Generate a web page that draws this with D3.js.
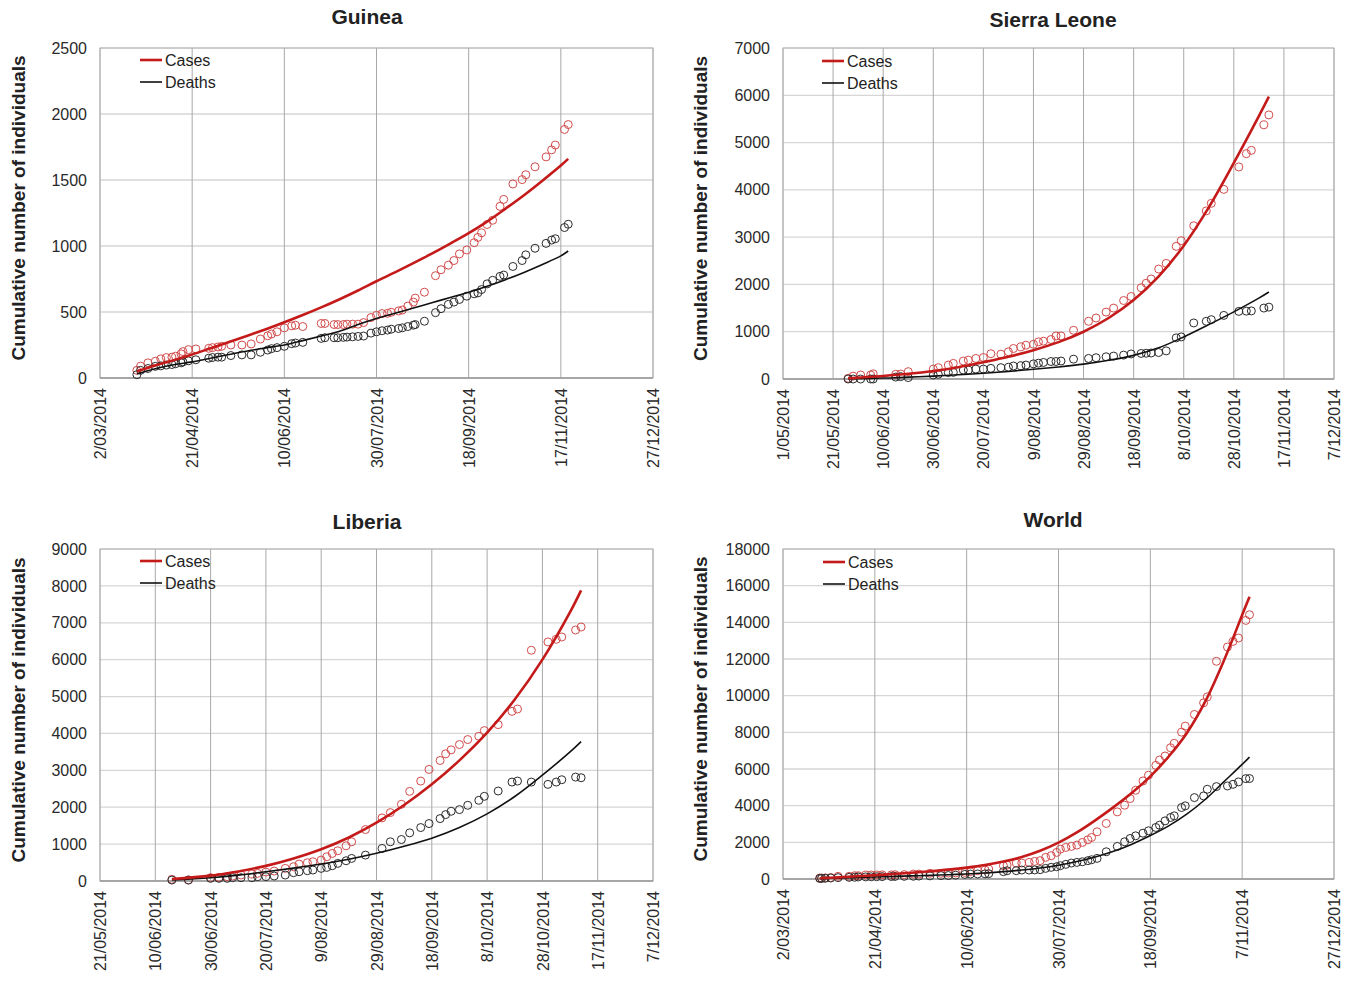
<!DOCTYPE html>
<html>
<head>
<meta charset="utf-8">
<script src="https://cdn.jsdelivr.net/npm/d3@7"></script>
<style>
body { margin: 0; background: #fff; }
svg { font-family: "Liberation Sans", Arial, Helvetica, sans-serif; }
</style>
</head>
<body>
<script>
// days are day-of-year 2014 (1 = 1 Jan)

// Guinea
var guineaDays = [81,83,87,91,94,97,100,102,105,106,109,113,120,122,125,127,132,138,143,148,152,154,157,161,165,167,171,181,183,188,190,193,195,198,201,204,208,211,214,217,219,223,225,228,231,232,237,243,246,250,253,256,260,264,266,268,271,274,278,280,285,290,292,297,303,306,308,313,315];
var guineaCases = [58,90,115,127,145,155,158,165,183,200,215,220,225,230,235,240,250,250,258,295,320,333,350,380,395,400,390,413,413,405,405,405,408,408,408,420,458,475,488,490,498,508,515,545,575,605,650,775,820,855,890,940,970,1025,1065,1100,1163,1195,1300,1353,1470,1503,1540,1600,1675,1728,1765,1883,1920];
var guineaDeaths = [25,58,72,88,92,98,102,108,115,122,130,138,150,155,158,158,170,175,175,195,212,222,230,240,260,265,270,300,305,305,305,308,310,312,315,318,340,350,358,363,370,375,380,390,400,405,430,495,525,558,575,595,620,638,645,670,713,740,770,780,845,890,933,983,1020,1045,1055,1140,1165];
var guineaFitDays = [81,91,101,111,121,131,141,151,161,171,181,191,201,211,221,231,241,251,261,271,281,291,301,311,315];
var guineaFitCases = [50,95,135,178,225,272,320,370,422,477,535,597,663,733,800,870,942,1018,1097,1185,1283,1385,1495,1610,1660];
var guineaFitDeaths = [32,70,100,122,150,178,205,228,250,283,318,355,405,450,490,530,570,610,650,695,745,800,860,925,962];
var guineaTickLabels = ["2/03/2014","21/04/2014","10/06/2014","30/07/2014","18/09/2014","17/11/2014","27/12/2014"];

// Sierra Leone
var sierraDays = [147,149,152,156,157,166,168,171,181,183,187,189,193,195,198,201,204,208,211,213,216,218,221,223,225,228,230,232,237,243,246,250,253,257,260,264,266,268,271,274,278,280,285,290,292,297,303,306,308,313,315];
var sierraCases = [15,60,85,85,110,100,105,155,210,240,295,330,380,400,435,455,535,525,575,645,680,715,735,785,800,835,910,910,1030,1220,1290,1415,1500,1660,1745,1930,2025,2115,2325,2445,2805,2925,3240,3555,3715,4010,4485,4765,4835,5375,5585];
var sierraDeaths = [0,0,0,0,0,40,50,30,85,100,135,140,190,190,210,210,225,240,250,275,280,295,320,335,350,370,370,380,420,435,450,470,485,505,530,540,545,550,560,595,870,890,1185,1220,1255,1345,1430,1435,1440,1500,1520];
var sierraFitDays = [147,161,171,181,191,201,211,221,231,241,251,261,271,281,291,301,311,315];
var sierraFitCases = [15,65,110,170,250,355,470,610,780,1000,1290,1670,2170,2820,3630,4570,5560,5970];
var sierraFitDeaths = [5,20,40,60,90,120,160,205,255,315,395,500,660,890,1150,1420,1710,1840];
var sierraTickLabels = ["1/05/2014","21/05/2014","10/06/2014","30/06/2014","20/07/2014","9/08/2014","29/08/2014","18/09/2014","8/10/2014","28/10/2014","17/11/2014","7/12/2014"];

// Liberia
var liberiaDays = [167,173,181,184,187,189,192,196,198,201,204,208,211,213,216,218,221,223,225,227,230,232,237,243,246,250,253,257,260,264,266,268,271,274,278,280,285,290,292,297,303,306,308,313,315];
var liberiaCases = [45,27,90,99,117,135,162,189,207,243,270,342,387,459,495,522,567,657,747,819,954,1062,1395,1710,1854,2079,2430,2709,3024,3267,3447,3555,3699,3834,3924,4077,4239,4599,4662,6255,6480,6552,6615,6804,6885];
var liberiaDeaths = [27,27,72,72,72,90,90,90,117,117,135,162,225,252,279,297,342,369,414,477,549,612,702,882,1062,1125,1305,1449,1557,1692,1800,1890,1935,2052,2187,2295,2439,2682,2709,2682,2619,2682,2745,2817,2799];
var liberiaFitDays = [167,181,191,201,211,221,231,241,251,261,271,281,291,301,311,315];
var liberiaFitCases = [55,145,260,410,610,860,1180,1580,2060,2620,3270,4020,4920,6000,7290,7880];
var liberiaFitDeaths = [27,90,160,250,350,460,590,750,940,1160,1450,1820,2290,2870,3500,3780];
var liberiaTickLabels = ["21/05/2014","10/06/2014","30/06/2014","20/07/2014","9/08/2014","29/08/2014","18/09/2014","8/10/2014","28/10/2014","17/11/2014","7/12/2014"];

// World
var worldDays = [81,82,84,87,91,97,100,102,106,109,112,115,120,122,127,132,135,141,147,151,155,160,163,167,171,173,181,183,188,191,195,198,201,204,207,210,212,215,218,221,224,227,229,232,237,243,247,250,253,257,260,264,266,269,272,274,278,280,285,290,292,297,303,306,309,313,315];
var worldCases = [50,55,60,80,145,145,180,180,220,220,220,225,225,235,240,270,270,310,310,325,330,360,400,455,490,545,725,760,870,870,905,960,1000,1180,1270,1450,1630,1720,1780,1850,1995,2140,2265,2575,3030,3660,4025,4390,4840,5350,5660,6200,6490,6710,7160,7400,8010,8340,8975,9610,9935,11875,12655,12960,13145,14105,14415];
var worldDeaths = [30,30,40,55,75,90,95,110,115,120,125,130,135,140,145,150,160,170,185,190,210,250,270,275,280,290,400,450,455,490,490,495,510,580,635,670,725,800,870,905,940,1000,1050,1125,1485,1775,2030,2210,2355,2500,2630,2810,2935,3170,3355,3445,3900,3990,4440,4530,4895,5040,5075,5165,5295,5475,5480];
var worldFitDays = [81,91,101,111,121,131,141,151,161,171,181,191,201,211,221,231,241,251,261,271,281,291,301,311,315];
var worldFitCases = [40,90,150,210,270,340,420,510,620,760,950,1200,1540,1980,2540,3200,3920,4700,5600,6680,7980,9700,11900,14400,15400];
var worldFitDeaths = [20,50,80,110,140,170,200,235,275,330,400,490,600,750,950,1200,1510,1900,2370,2900,3550,4350,5300,6250,6650];
var worldTickLabels = ["2/03/2014","21/04/2014","10/06/2014","30/07/2014","18/09/2014","7/11/2014","27/12/2014"];

var legendLabels = ["Cases", "Deaths"];
var yTitle = "Cumulative number of individuals";

window.onload = function(){

    var w = 1351, h = 981;

    var svg = d3.select("body")
        .append("svg")
        .attr("width", w)
        .attr("height", h);

    //day of year -> date
    function day(n){
        return new Date(2014, 0, n);
    }

    var panels = [
        {title: "Guinea", days: guineaDays, cases: guineaCases, deaths: guineaDeaths,
         fitDays: guineaFitDays, fitCases: guineaFitCases, fitDeaths: guineaFitDeaths,
         labels: guineaTickLabels, tickStart: 61, tickStep: 50, yMax: 2500, yStep: 500,
         l: 100, r: 653, t: 48, b: 378, titleX: 367, titleY: 24, yTitleX: 25, legX: 140, legY: 60},
        {title: "Sierra Leone", days: sierraDays, cases: sierraCases, deaths: sierraDeaths,
         fitDays: sierraFitDays, fitCases: sierraFitCases, fitDeaths: sierraFitDeaths,
         labels: sierraTickLabels, tickStart: 121, tickStep: 20, yMax: 7000, yStep: 1000,
         l: 783, r: 1334, t: 48, b: 379, titleX: 1053, titleY: 27, yTitleX: 707, legX: 822, legY: 61},
        {title: "Liberia", days: liberiaDays, cases: liberiaCases, deaths: liberiaDeaths,
         fitDays: liberiaFitDays, fitCases: liberiaFitCases, fitDeaths: liberiaFitDeaths,
         labels: liberiaTickLabels, tickStart: 141, tickStep: 20, yMax: 9000, yStep: 1000,
         l: 100, r: 653, t: 549, b: 881, titleX: 367, titleY: 529, yTitleX: 25, legX: 140, legY: 561},
        {title: "World", days: worldDays, cases: worldCases, deaths: worldDeaths,
         fitDays: worldFitDays, fitCases: worldFitCases, fitDeaths: worldFitDeaths,
         labels: worldTickLabels, tickStart: 61, tickStep: 50, yMax: 18000, yStep: 2000,
         l: 783, r: 1334, t: 549, b: 879, titleX: 1053, titleY: 527, yTitleX: 707, legX: 823, legY: 562}
    ];

    panels.forEach(drawPanel);

    function drawPanel(p){
        var g = svg.append("g").attr("class", "panel");

        var tickDates = p.labels.map(function(d, i){
            return day(p.tickStart + i * p.tickStep);
        });

        var x = d3.scaleTime()
            .domain([tickDates[0], tickDates[tickDates.length - 1]])
            .range([p.l, p.r]);

        var y = d3.scaleLinear()
            .domain([0, p.yMax])
            .range([p.b, p.t]);

        var yTicks = d3.range(0, p.yMax + 1, p.yStep);

        //horizontal grid
        g.selectAll(".hgrid")
            .data(yTicks)
            .enter()
            .append("line")
            .attr("class", "hgrid")
            .attr("x1", p.l)
            .attr("x2", p.r)
            .attr("y1", function(d){ return y(d); })
            .attr("y2", function(d){ return y(d); })
            .style("stroke", "#d6d6d6")
            .style("stroke-width", 1.3);

        //vertical grid
        g.selectAll(".vgrid")
            .data(tickDates)
            .enter()
            .append("line")
            .attr("class", "vgrid")
            .attr("x1", function(d){ return x(d); })
            .attr("x2", function(d){ return x(d); })
            .attr("y1", p.t)
            .attr("y2", p.b)
            .style("stroke", "#a8a8a8")
            .style("stroke-width", 1);

        //frame
        g.append("rect")
            .attr("x", p.l)
            .attr("y", p.t)
            .attr("width", p.r - p.l)
            .attr("height", p.b - p.t)
            .style("fill", "none")
            .style("stroke", "#b5b5b5")
            .style("stroke-width", 1);

        //bottom axis line
        g.append("line")
            .attr("x1", p.l).attr("x2", p.r)
            .attr("y1", p.b).attr("y2", p.b)
            .style("stroke", "#9a9a9a")
            .style("stroke-width", 1.3);

        //y axis
        var yAxis = g.append("g")
            .attr("transform", "translate(" + p.l + ",0)")
            .call(d3.axisLeft(y).tickValues(yTicks).tickSize(0).tickPadding(13).tickFormat(d3.format("d")));
        yAxis.select(".domain").remove();
        yAxis.selectAll("text")
            .style("font-size", "16px")
            .style("fill", "#2a2a2a")
            .style("font-family", "'Liberation Sans', Arial, sans-serif");

        //x axis with rotated labels
        var xAxis = g.append("g")
            .attr("transform", "translate(0," + p.b + ")")
            .call(d3.axisBottom(x).tickValues(tickDates).tickSize(0).tickFormat(function(d, i){
                return p.labels[i];
            }));
        xAxis.select(".domain").remove();
        xAxis.selectAll("text")
            .attr("x", -10)
            .attr("y", 0)
            .attr("dy", "0.35em")
            .attr("transform", "rotate(-90)")
            .style("text-anchor", "end")
            .style("font-size", "16px")
            .style("fill", "#2a2a2a")
            .style("font-family", "'Liberation Sans', Arial, sans-serif");

        //observed points
        g.selectAll(".caseDot")
            .data(p.days)
            .enter()
            .append("circle")
            .attr("class", "caseDot")
            .attr("cx", function(d){ return x(day(d)); })
            .attr("cy", function(d, i){ return y(p.cases[i]); })
            .attr("r", 4)
            .style("fill", "none")
            .style("stroke", "#d24b4b")
            .style("stroke-width", 1);

        g.selectAll(".deathDot")
            .data(p.days)
            .enter()
            .append("circle")
            .attr("class", "deathDot")
            .attr("cx", function(d){ return x(day(d)); })
            .attr("cy", function(d, i){ return y(p.deaths[i]); })
            .attr("r", 4)
            .style("fill", "none")
            .style("stroke", "#2b2b2b")
            .style("stroke-width", 1);

        //fitted curves
        var line = function(vals){
            return d3.line()
                .x(function(d){ return x(day(d)); })
                .y(function(d, i){ return y(vals[i]); })
                .curve(d3.curveCatmullRom.alpha(0.5))(p.fitDays);
        };

        g.append("path")
            .attr("d", line(p.fitDeaths))
            .style("fill", "none")
            .style("stroke", "#111")
            .style("stroke-width", 1.6);

        g.append("path")
            .attr("d", line(p.fitCases))
            .style("fill", "none")
            .style("stroke", "#c41a1a")
            .style("stroke-width", 2.6);

        //title
        g.append("text")
            .attr("x", p.titleX)
            .attr("y", p.titleY)
            .attr("text-anchor", "middle")
            .style("font-size", "21px")
            .style("font-weight", "bold")
            .style("fill", "#222")
            .text(p.title);

        //y axis title
        g.append("text")
            .attr("transform", "translate(" + p.yTitleX + "," + ((p.t + p.b) / 2 - 5) + ") rotate(-90)")
            .attr("text-anchor", "middle")
            .style("font-size", "19px")
            .style("font-weight", "bold")
            .style("fill", "#222")
            .text(yTitle);

        //legend
        var legColors = ["#c41a1a", "#111"];
        var legWidths = [2.6, 1.6];
        legendLabels.forEach(function(lab, i){
            var ly = p.legY + i * 22;
            g.append("line")
                .attr("x1", p.legX).attr("x2", p.legX + 22)
                .attr("y1", ly).attr("y2", ly)
                .style("stroke", legColors[i])
                .style("stroke-width", legWidths[i]);
            g.append("text")
                .attr("x", p.legX + 25)
                .attr("y", ly)
                .attr("dy", "0.35em")
                .style("font-size", "16px")
                .style("fill", "#222")
                .text(lab);
        });
    }
};
</script>
</body>
</html>
